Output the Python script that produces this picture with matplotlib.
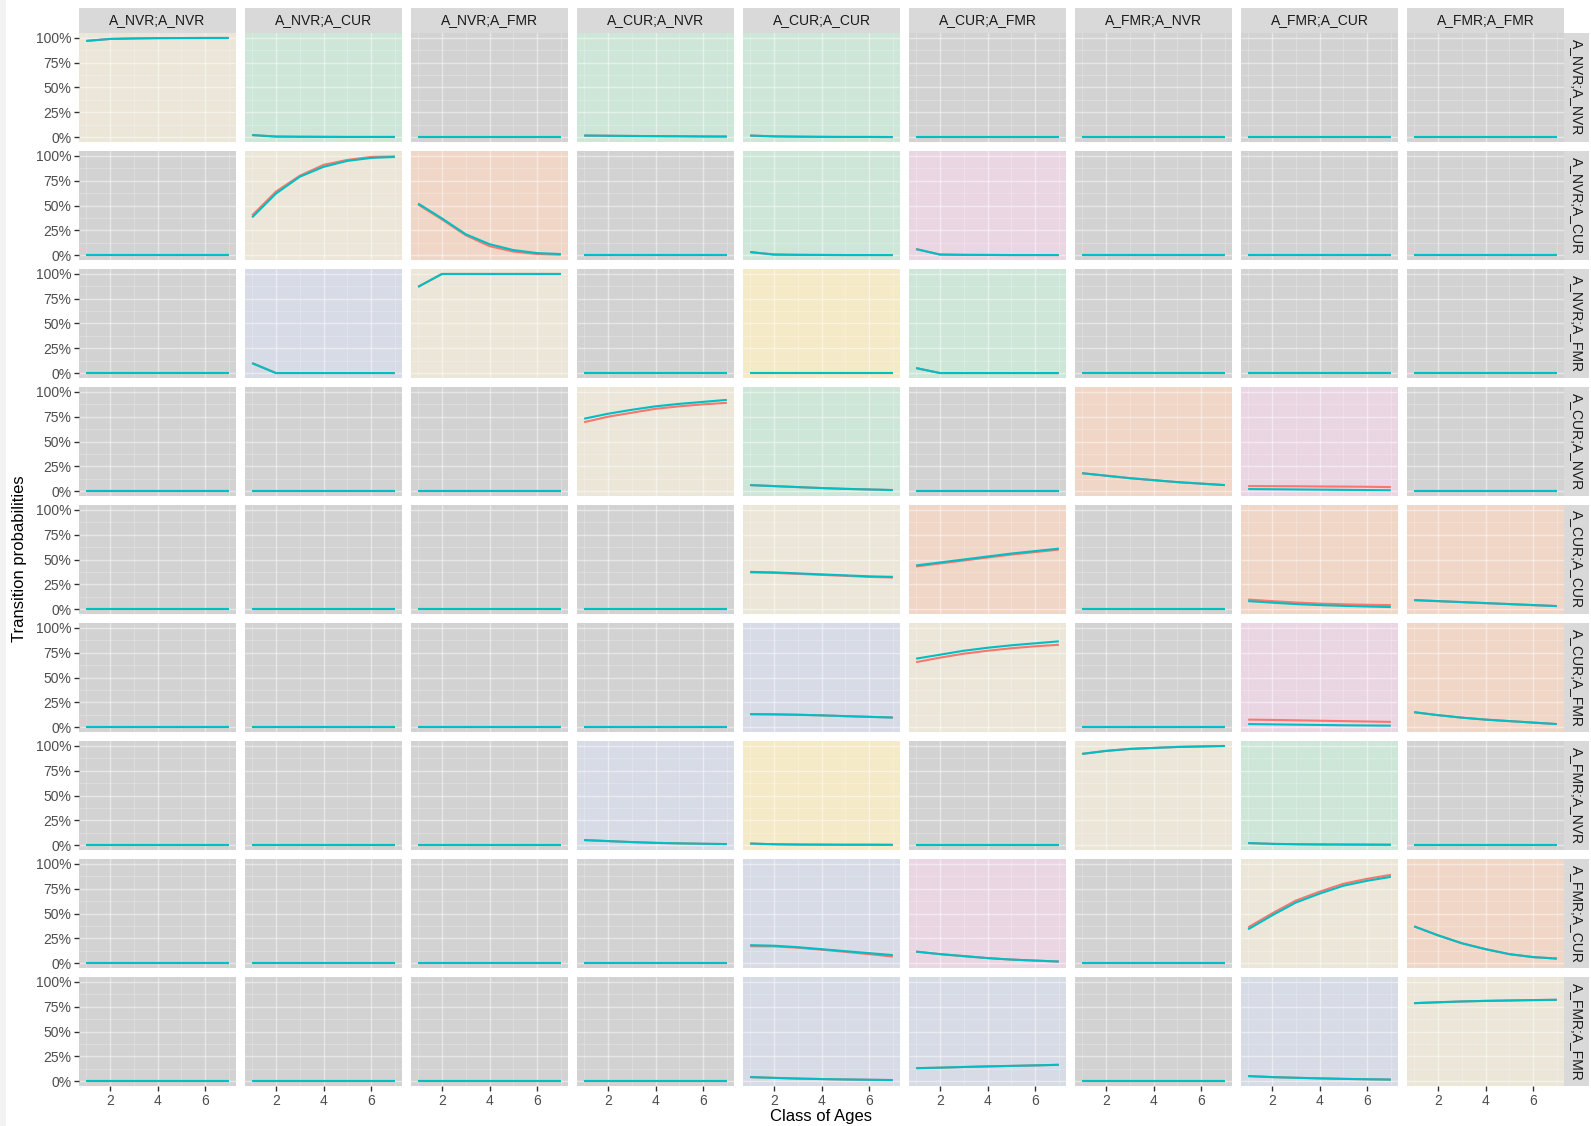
import matplotlib.pyplot as plt
from matplotlib.patches import Rectangle
from matplotlib.ticker import FuncFormatter, MultipleLocator

plt.rcParams['font.family'] = ['Liberation Sans', 'DejaVu Sans']

states = ['A_NVR;A_NVR', 'A_NVR;A_CUR', 'A_NVR;A_FMR',
          'A_CUR;A_NVR', 'A_CUR;A_CUR', 'A_CUR;A_FMR',
          'A_FMR;A_NVR', 'A_FMR;A_CUR', 'A_FMR;A_FMR']
ages = [1, 2, 3, 4, 5, 6, 7]

# panel fill per row: g grey, b beige, e green, s salmon, l lavender, p pink, y yellow
fills = ['begeegggg',
         'gbsgepggg',
         'glbgyeggg',
         'gggbegspg',
         'ggggbsgss',
         'gggglbgps',
         'ggglygbeg',
         'gggglpgbs',
         'ggggllglb']
fill_colors = {'g': '#D2D2D2', 'b': '#EBE6D8', 'e': '#CDE6D8', 's': '#F0D6C7',
               'l': '#D7DBE6', 'p': '#EAD6E3', 'y': '#F5EAC8'}

# second model (teal), keyed by (row, col); missing panels are flat at zero
teal = {
    (0, 0): [0.97, 0.99, 0.995, 0.998, 0.999, 1.0, 1.0],
    (0, 1): [0.02, 0.005, 0.003, 0.002, 0.001, 0.001, 0.001],
    (0, 3): [0.015, 0.013, 0.011, 0.009, 0.008, 0.006, 0.005],
    (0, 4): [0.015, 0.007, 0.004, 0.002, 0.001, 0.001, 0.0],
    (1, 1): [0.38, 0.62, 0.79, 0.89, 0.95, 0.98, 0.99],
    (1, 2): [0.52, 0.37, 0.21, 0.11, 0.05, 0.02, 0.01],
    (1, 4): [0.03, 0.005, 0.002, 0.001, 0.0, 0.0, 0.0],
    (1, 5): [0.06, 0.005, 0.002, 0.001, 0.0, 0.0, 0.0],
    (2, 1): [0.10, 0.0, 0.0, 0.0, 0.0, 0.0, 0.0],
    (2, 2): [0.87, 1.0, 1.0, 1.0, 1.0, 1.0, 1.0],
    (2, 5): [0.05, 0.0, 0.0, 0.0, 0.0, 0.0, 0.0],
    (3, 3): [0.73, 0.78, 0.82, 0.855, 0.88, 0.90, 0.92],
    (3, 4): [0.06, 0.05, 0.04, 0.03, 0.022, 0.016, 0.01],
    (3, 6): [0.18, 0.155, 0.13, 0.11, 0.09, 0.075, 0.06],
    (3, 7): [0.02, 0.018, 0.016, 0.014, 0.012, 0.01, 0.008],
    (4, 4): [0.375, 0.37, 0.36, 0.35, 0.34, 0.33, 0.325],
    (4, 5): [0.44, 0.47, 0.50, 0.53, 0.56, 0.585, 0.61],
    (4, 7): [0.08, 0.065, 0.05, 0.04, 0.032, 0.026, 0.02],
    (4, 8): [0.09, 0.08, 0.07, 0.06, 0.05, 0.04, 0.03],
    (5, 4): [0.13, 0.128, 0.124, 0.118, 0.11, 0.103, 0.096],
    (5, 5): [0.69, 0.73, 0.77, 0.80, 0.825, 0.845, 0.865],
    (5, 7): [0.03, 0.027, 0.024, 0.021, 0.018, 0.016, 0.014],
    (5, 8): [0.15, 0.12, 0.095, 0.075, 0.06, 0.045, 0.03],
    (6, 3): [0.05, 0.04, 0.03, 0.022, 0.017, 0.013, 0.01],
    (6, 4): [0.015, 0.008, 0.005, 0.004, 0.003, 0.003, 0.002],
    (6, 6): [0.92, 0.95, 0.97, 0.98, 0.99, 0.995, 1.0],
    (6, 7): [0.02, 0.012, 0.008, 0.006, 0.005, 0.004, 0.003],
    (7, 4): [0.18, 0.175, 0.16, 0.14, 0.12, 0.10, 0.08],
    (7, 5): [0.115, 0.09, 0.07, 0.05, 0.035, 0.025, 0.015],
    (7, 7): [0.34, 0.48, 0.61, 0.70, 0.78, 0.83, 0.87],
    (7, 8): [0.37, 0.28, 0.20, 0.14, 0.09, 0.06, 0.045],
    (8, 4): [0.04, 0.032, 0.025, 0.02, 0.016, 0.013, 0.01],
    (8, 5): [0.13, 0.135, 0.142, 0.148, 0.153, 0.158, 0.164],
    (8, 7): [0.05, 0.04, 0.033, 0.027, 0.022, 0.018, 0.015],
    (8, 8): [0.786, 0.795, 0.803, 0.809, 0.813, 0.817, 0.82],
}

# first model (red), only where it departs from the teal one
red = {
    (1, 1): [0.40, 0.64, 0.80, 0.91, 0.96, 0.99, 0.995],
    (1, 2): [0.51, 0.36, 0.20, 0.09, 0.035, 0.01, 0.003],
    (3, 3): [0.695, 0.75, 0.79, 0.83, 0.855, 0.875, 0.89],
    (3, 7): [0.05, 0.049, 0.048, 0.046, 0.045, 0.043, 0.04],
    (4, 4): [0.37, 0.365, 0.355, 0.345, 0.335, 0.325, 0.318],
    (4, 5): [0.43, 0.46, 0.49, 0.52, 0.55, 0.575, 0.60],
    (4, 7): [0.096, 0.08, 0.066, 0.055, 0.048, 0.043, 0.04],
    (5, 5): [0.655, 0.70, 0.74, 0.77, 0.795, 0.815, 0.83],
    (5, 7): [0.075, 0.072, 0.068, 0.064, 0.06, 0.056, 0.052],
    (7, 4): [0.17, 0.168, 0.155, 0.135, 0.113, 0.09, 0.065],
    (7, 7): [0.36, 0.50, 0.63, 0.72, 0.80, 0.85, 0.89],
}

W, H = 1591, 1126
fig = plt.figure(figsize=(W / 100, H / 100), dpi=100)

# thin grey band down the left edge
fig.add_artist(Rectangle((0, 0), 6 / W, 1, transform=fig.transFigure,
                         facecolor='#F2F2F2', edgecolor='none'))

x0, y0, pw, ph, dx, dy = 79, 33, 157, 109, 166, 118
strip_c = '#D9D9D9'
zero = [0.0] * len(ages)
pct = FuncFormatter(lambda v, p: '%d%%' % round(v * 100))

for r in range(9):
    for c in range(9):
        left = x0 + c * dx
        top = y0 + r * dy
        ax = fig.add_axes([left / W, 1 - (top + ph) / H, pw / W, ph / H])
        ax.set_facecolor(fill_colors[fills[r][c]])
        for s in ax.spines.values():
            s.set_visible(False)
        ax.set_xlim(0.7, 7.3)
        ax.set_ylim(-0.05, 1.05)
        ax.xaxis.set_major_locator(MultipleLocator(2))
        ax.xaxis.set_minor_locator(MultipleLocator(1))
        ax.yaxis.set_major_locator(MultipleLocator(0.25))
        ax.yaxis.set_minor_locator(MultipleLocator(0.125))
        ax.grid(True, which='major', color='white', alpha=0.45, lw=1.0)
        ax.grid(True, which='minor', color='white', alpha=0.25, lw=0.6)
        ax.set_axisbelow(True)
        ax.tick_params(which='minor', length=0)
        ax.tick_params(which='major', length=3.5, width=1, color='#333333',
                       labelcolor='#4D4D4D', labelsize=10, pad=2)
        ax.yaxis.set_major_formatter(pct)
        if c != 0:
            ax.tick_params(axis='y', which='major', length=0, labelleft=False)
        if r != 8:
            ax.tick_params(axis='x', which='major', length=0, labelbottom=False)

        t = teal.get((r, c), zero)
        rd = red.get((r, c), t)
        ax.plot(ages, rd, color='#F8766D', lw=1.5, solid_capstyle='butt')
        ax.plot(ages, t, color='#00BFC4', lw=1.5, solid_capstyle='butt')

        if r == 0:
            fig.add_artist(Rectangle((left / W, 1 - top / H), pw / W, 25 / H,
                                     transform=fig.transFigure,
                                     facecolor=strip_c, edgecolor='none'))
            fig.text((left + pw / 2) / W, 1 - (top - 12.5) / H, states[c],
                     ha='center', va='center', fontsize=10, color='#1A1A1A')
        if c == 8:
            right = left + pw
            fig.add_artist(Rectangle((right / W, 1 - (top + ph) / H), 25 / W, ph / H,
                                     transform=fig.transFigure,
                                     facecolor=strip_c, edgecolor='none'))
            fig.text((right + 12.5) / W, 1 - (top + ph / 2) / H, states[r],
                     ha='center', va='center', rotation=-90, fontsize=10,
                     color='#1A1A1A')

fig.text(20 / W, 1 - 559 / H, 'Transition probabilities', rotation=90,
         ha='center', va='center', fontsize=12, color='black')
fig.text(821 / W, 1 - 1116 / H, 'Class of Ages', ha='center', va='center',
         fontsize=12, color='black')

fig.savefig('out.png', dpi=100)
